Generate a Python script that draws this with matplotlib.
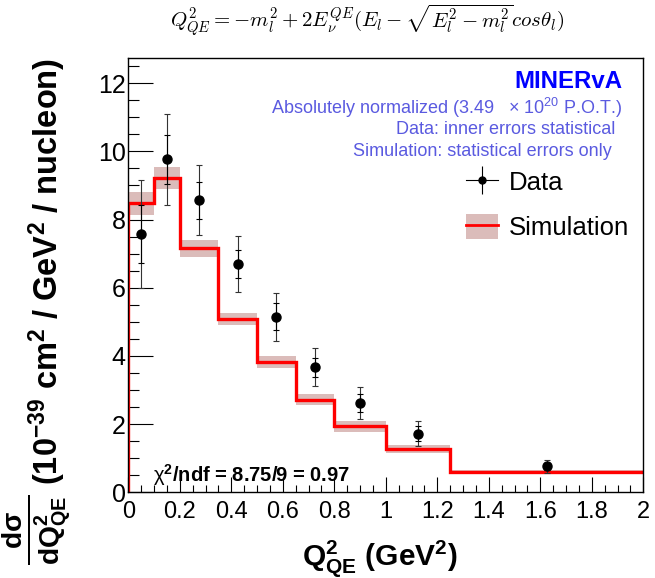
import matplotlib
matplotlib.use("Agg")
import matplotlib.pyplot as plt
from matplotlib.lines import Line2D
from matplotlib.patches import Patch
import numpy as np

plt.rcParams["font.family"] = ["Liberation Sans", "DejaVu Sans"]
plt.rcParams["mathtext.fontset"] = "custom"
plt.rcParams["mathtext.rm"] = "Liberation Sans"
plt.rcParams["mathtext.it"] = "Liberation Sans:italic"
plt.rcParams["mathtext.bf"] = "Liberation Sans:bold"

# binning of the simulation histogram (GeV^2)
bin_edges = [0.0, 0.1, 0.2, 0.35, 0.5, 0.65, 0.8, 1.0, 1.25, 2.0]
sim_values = [8.48, 9.21, 7.16, 5.08, 3.82, 2.72, 1.93, 1.27, 0.59]
sim_errors = [0.34, 0.32, 0.25, 0.18, 0.17, 0.17, 0.15, 0.11, 0.06]

# data points
data_x = [0.05, 0.15, 0.275, 0.425, 0.575, 0.725, 0.9, 1.125, 1.625]
data_y = [7.58, 9.77, 8.57, 6.70, 5.15, 3.67, 2.62, 1.72, 0.76]
data_err_stat = [0.85, 0.72, 0.54, 0.40, 0.40, 0.28, 0.27, 0.23, 0.10]
data_err_tot = [1.58, 1.33, 1.03, 0.83, 0.70, 0.55, 0.47, 0.37, 0.20]

band_color = "#dbbcba"

fig = plt.figure(figsize=(6.55, 5.78), dpi=100)
ax = fig.add_axes([0.1959, 0.1483, 0.7862, 0.7508])

edges = np.array(bin_edges)
vals = np.array(sim_values)
errs = np.array(sim_errors)
for i in range(len(vals)):
    ax.fill_between([edges[i], edges[i + 1]], vals[i] - errs[i], vals[i] + errs[i],
                    color=band_color, lw=0, zorder=1)

step_x = np.concatenate([[edges[0]], np.repeat(edges[1:-1], 2), [edges[-1]]])
step_y = np.repeat(vals, 2)
step_x = np.concatenate([[edges[0]], step_x])
step_y = np.concatenate([[0], step_y])
ax.plot(step_x, step_y, color="red", lw=2.4, zorder=2, solid_joinstyle="miter")

ax.errorbar(data_x, data_y, yerr=data_err_tot, fmt="none", ecolor="#333333",
            elinewidth=0.8, capsize=2.2, capthick=0.8, zorder=3)
ax.errorbar(data_x, data_y, yerr=data_err_stat, fmt="o", color="black", ms=6.5,
            elinewidth=0.8, capsize=2.2, capthick=0.8, zorder=4)

ax.set_xlim(0, 2)
ax.set_ylim(0, 12.73)
ax.set_xticks(np.arange(0, 2.01, 0.2))
ax.set_xticklabels(["0", "0.2", "0.4", "0.6", "0.8", "1", "1.2", "1.4", "1.6", "1.8", "2"])
ax.set_xticks(np.arange(0, 2.001, 0.05), minor=True)
ax.set_yticks(np.arange(0, 12.1, 2))
ax.set_yticks(np.arange(0, 12.6, 0.5), minor=True)
ax.tick_params(axis="x", which="major", direction="in", length=11, width=0.8, labelsize=17, pad=6)
ax.tick_params(axis="x", which="minor", direction="in", length=5, width=0.8)
ax.tick_params(axis="y", which="major", direction="in", length=18, width=0.8, labelsize=18, pad=2)
ax.tick_params(axis="y", which="minor", direction="in", length=8, width=0.8)
for s in ax.spines.values():
    s.set_linewidth(1.0)

fig.text(0.5795, 1 - 565 / 578, r"$\mathbf{Q^{2}_{QE}}$ (GeV$^{\mathbf{2}}$)",
         fontsize=21.5, fontweight="bold", ha="center", va="baseline")
fig.text(47 / 655, 1 - 58 / 578,
         r"(10$^{\mathbf{-39}}$ cm$^{\mathbf{2}}$ / GeV$^{\mathbf{2}}$ / nucleon)",
         fontsize=23.5, fontweight="bold", rotation=90, ha="center", va="top")
fig.text(36 / 655, 1 - 530 / 578, r"$\mathbf{\frac{d\sigma}{dQ^{2}_{QE}}}$",
         fontsize=29, fontweight="bold", rotation=90, ha="center", va="center")

fig.text(367 / 655, 1 - 20 / 578,
         r"$Q^2_{QE} = -m_l^2 + 2E_\nu^{QE}(E_l - \sqrt{E_l^2 - m_l^2}cos\theta_l)$",
         fontsize=15, ha="center", va="center", math_fontfamily="cm")

info_color = "#5a5ae0"
fig.text(623 / 655, 1 - 82 / 578, "MINERvA", color="#0000ff", fontsize=17.3,
         fontweight="bold", ha="right", va="center")
fig.text(622 / 655, 1 - 108 / 578, r"Absolutely normalized (3.49   $\times$ 10$^{20}$ P.O.T.)",
         color=info_color, fontsize=13, ha="right", va="center")
fig.text(615 / 655, 1 - 129 / 578, "Data: inner errors statistical",
         color=info_color, fontsize=13, ha="right", va="center")
fig.text(612 / 655, 1 - 151 / 578, "Simulation: statistical errors only",
         color=info_color, fontsize=13, ha="right", va="center")

ax.text(153 / 655, 1 - 482 / 578, r"$\mathrm{\chi}^{\mathbf{2}}$/ndf = 8.75/9 = 0.97",
        transform=fig.transFigure, fontsize=14.5, fontweight="bold", ha="left", va="baseline")

data_handle = (Line2D([], [], color="black", lw=0.8),
               Line2D([], [], color="black", marker="|", ms=20, mew=0.8, ls=""),
               Line2D([], [], color="black", marker="o", ms=5, ls=""))
sim_handle = (Patch(facecolor=band_color, edgecolor="none"),
              Line2D([], [], color="red", lw=2))
ax.legend([data_handle, sim_handle], ["Data", "Simulation"], loc="upper left",
          bbox_to_anchor=(0.656, 0.745), frameon=False, fontsize=18.5,
          handlelength=1.25, handleheight=1.1, handletextpad=0.4,
          labelspacing=0.75, borderpad=0, borderaxespad=0)

fig.savefig("out.png", dpi=100)
